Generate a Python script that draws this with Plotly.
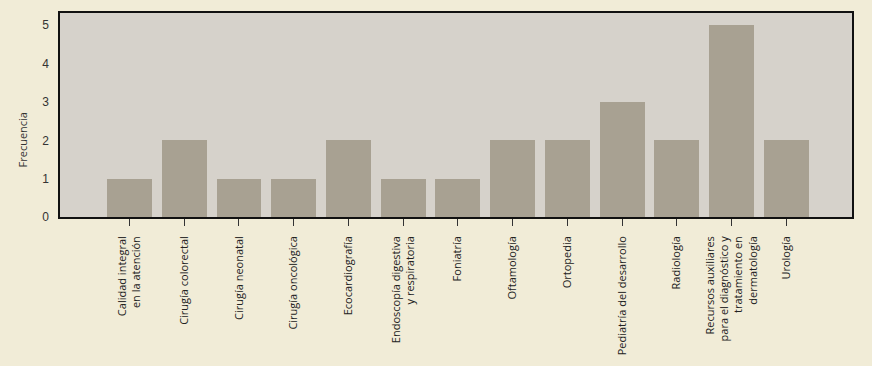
import plotly.graph_objects as go

categories = [
    "Calidad integral<br>en la atención",
    "Cirugía colorectal",
    "Cirugía neonatal",
    "Cirugía oncológica",
    "Ecocardiografía",
    "Endoscopía digestiva<br>y respiratoria",
    "Foniatría",
    "Oftamología",
    "Ortopedia",
    "Pediatría del desarrollo",
    "Radiología",
    "Recursos auxiliares<br>para el diagnóstico y<br>tratamiento en<br>dermatología",
    "Urología",
]
frecuencia = [1, 2, 1, 1, 2, 1, 1, 2, 2, 3, 2, 5, 2]
y_ticks = [0, 1, 2, 3, 4, 5]
y_title = "Frecuencia"

fig = go.Figure(go.Bar(
    x=list(range(len(categories))),
    y=frecuencia,
    width=0.82,
    marker=dict(color="#a8a192", line=dict(width=0)),
))

fig.update_layout(
    width=872, height=366,
    margin=dict(l=60, r=20, t=11, b=149),
    paper_bgcolor="#f1ecd7",
    plot_bgcolor="#d6d2cb",
    font=dict(family="Liberation Sans, Arial, sans-serif", size=11, color="#333333"),
    showlegend=False,
    bargap=0,
    annotations=[dict(
        text=y_title, textangle=-90, showarrow=False,
        xref="paper", yref="paper", x=-0.048, y=0.38,
        xanchor="center", yanchor="middle",
        font=dict(family="Open Sans, Liberation Sans, sans-serif", size=11, color="#333333"),
    )],
)
fig.update_xaxes(
    range=[-1.27, 13.2],
    tickmode="array",
    tickvals=list(range(len(categories))),
    ticktext=categories,
    tickangle=-90,
    ticks="outside", ticklen=7, tickcolor="#333333", tickwidth=1,
    ticklabelstandoff=6,
    showline=True, linecolor="#111111", linewidth=1.5, mirror=True,
    showgrid=False, zeroline=False,
    tickfont=dict(family="Open Sans, Liberation Sans, sans-serif", size=11, color="#222222"),
)
fig.update_yaxes(
    range=[0, 5.32],
    tickmode="array", tickvals=y_ticks,
    ticks="", showgrid=False, zeroline=False,
    ticklabelstandoff=7,
    showline=True, linecolor="#111111", linewidth=1.5, mirror=True,
    tickfont=dict(size=12, color="#333333"),
)

fig.write_html(
    "out.html",
    config={"displayModeBar": False},
    post_script="document.body.style.margin='0';document.body.style.overflow='hidden';",
)
